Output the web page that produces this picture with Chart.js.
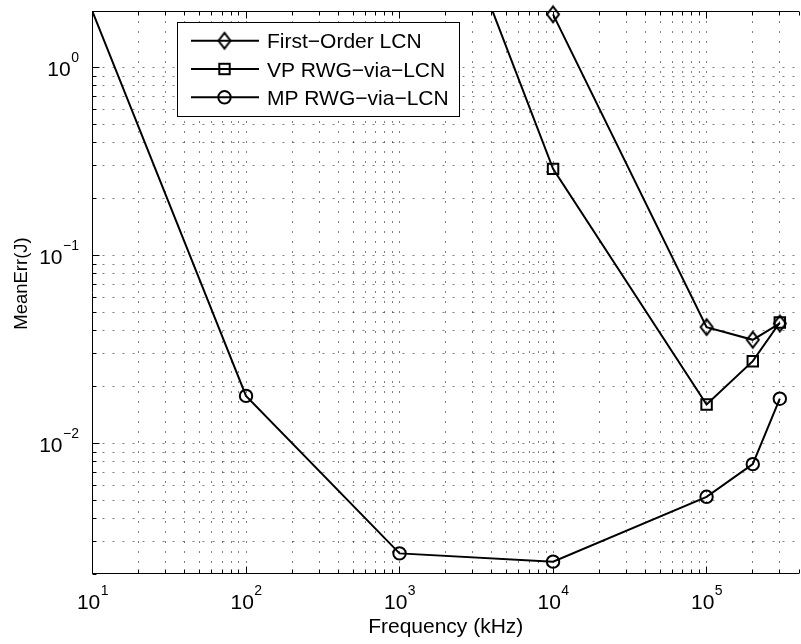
<!DOCTYPE html>
<html>
<head>
<meta charset="utf-8">
<title>MeanErr vs Frequency</title>
<script src="https://cdn.jsdelivr.net/npm/chart.js@4"></script>
<style>
  html, body { margin: 0; padding: 0; background: #fff; overflow: hidden; }
  #wrap { width: 801px; height: 644px; overflow: hidden; }
  canvas { display: block; }
</style>
</head>
<body>
<div id="wrap"><canvas id="errChart" width="809" height="644"></canvas></div>
<script>
const fontFamily = "'Liberation Sans', Arial, Helvetica, sans-serif";

// frequency in kHz, error values
const firstOrderFreq = [1e4, 1e5, 2e5, 3e5];
const firstOrderErr = [1.92, 0.0416, 0.0356, 0.0435];

const vpFreq = [1e3, 1e4, 1e5, 2e5, 3e5];
const vpErr = [39, 0.289, 0.0161, 0.0274, 0.044];

const mpFreq = [1, 1e2, 1e3, 1e4, 1e5, 2e5, 3e5];
const mpErr = [220, 0.0179, 0.0026, 0.00235, 0.0052, 0.00776, 0.0173];

const seriesLabels = ["First−Order LCN", "VP RWG−via−LCN", "MP RWG−via−LCN"];

const xLimits = [10, 4e5];
const yLimits = [0.002, 2];
const xTickExps = [1, 2, 3, 4, 5];
const yTickExps = [-2, -1, 0];

const xTitle = "Frequency (kHz)";
const yTitle = "MeanErr(J)";

function toPoints(xs, ys) {
  return xs.map((x, i) => ({ x: x, y: ys[i] }));
}

// 1..9 x 10^n inside the range, like a matlab log axis
function logTicks(scale) {
  const ticks = [];
  const lo = Math.floor(Math.log10(scale.min));
  const hi = Math.ceil(Math.log10(scale.max));
  for (let e = lo; e <= hi; e++) {
    for (let m = 1; m <= 9; m++) {
      const v = m * Math.pow(10, e);
      if (v >= scale.min * 0.999 && v <= scale.max * 1.001) {
        ticks.push({ value: v, major: m === 1 });
      }
    }
  }
  scale.ticks = ticks;
}

// matlab style diamond, a bit taller than wide
function makeDiamond() {
  const c = document.createElement("canvas");
  c.width = 16;
  c.height = 20;
  const g = c.getContext("2d");
  g.lineWidth = 2;
  g.strokeStyle = "#000";
  g.beginPath();
  g.moveTo(8, 2.2);
  g.lineTo(14, 10);
  g.lineTo(8, 17.8);
  g.lineTo(2, 10);
  g.closePath();
  g.stroke();
  return c;
}
const diamond = makeDiamond();

function drawMarker(ctx, style, x, y) {
  ctx.save();
  ctx.lineWidth = 2;
  ctx.strokeStyle = "#000";
  if (style === "rect") {
    ctx.strokeRect(x - 5.2, y - 5.2, 10.4, 10.4);
  } else if (style === "circle") {
    ctx.beginPath();
    ctx.arc(x, y, 6.2, 0, Math.PI * 2);
    ctx.stroke();
  } else {
    ctx.drawImage(style, x - 8, y - 10);
  }
  ctx.restore();
}

function drawPow(ctx, exp, x, y, align) {
  const base = "10";
  const sup = exp < 0 ? "−" + (-exp) : String(exp);
  ctx.font = "21px " + fontFamily;
  const wb = ctx.measureText(base).width;
  ctx.font = "14px " + fontFamily;
  const ws = ctx.measureText(sup).width;
  const x0 = align === "center" ? x - (wb + ws) / 2 : x - wb - ws;
  ctx.textAlign = "left";
  ctx.textBaseline = "alphabetic";
  ctx.font = "21px " + fontFamily;
  ctx.fillText(base, x0, y);
  ctx.font = "14px " + fontFamily;
  ctx.fillText(sup, x0 + wb + 0.5, y - 14);
}

const matlabAxes = {
  id: "matlabAxes",
  beforeDatasetsDraw(chart) {
    const ctx = chart.ctx;
    const area = chart.chartArea;
    const xs = chart.scales.x;
    const ys = chart.scales.y;
    ctx.save();
    ctx.strokeStyle = "rgba(0,0,0,0.5)";
    ctx.lineWidth = 1;
    ctx.setLineDash([2, 8]);
    xs.ticks.forEach(t => {
      const px = xs.getPixelForValue(t.value);
      if (px < area.left + 1 || px > area.right - 1) return;
      const sx = Math.floor(px) + 0.5;
      ctx.beginPath();
      ctx.moveTo(sx, area.top);
      ctx.lineTo(sx, area.bottom);
      ctx.stroke();
    });
    ys.ticks.forEach(t => {
      const py = ys.getPixelForValue(t.value);
      if (py < area.top + 1 || py > area.bottom - 1) return;
      const sy = Math.floor(py) + 0.5;
      ctx.beginPath();
      ctx.moveTo(area.left, sy);
      ctx.lineTo(area.right, sy);
      ctx.stroke();
    });
    ctx.restore();
  },
  afterDatasetsDraw(chart) {
    const ctx = chart.ctx;
    const area = chart.chartArea;
    const xs = chart.scales.x;
    const ys = chart.scales.y;
    const left = Math.floor(area.left) + 0.5;
    const top = Math.floor(area.top) + 0.5;
    const bottom = Math.floor(area.bottom) - 0.5;

    ctx.save();
    ctx.strokeStyle = "#000";
    ctx.lineWidth = 1;
    ctx.beginPath();
    ctx.moveTo(area.right, top);
    ctx.lineTo(left, top);
    ctx.lineTo(left, bottom);
    ctx.lineTo(area.right, bottom);
    ctx.stroke();

    // inward tick marks
    ctx.beginPath();
    xs.ticks.forEach(t => {
      const sx = Math.floor(xs.getPixelForValue(t.value)) + 0.5;
      const len = t.major ? 7 : 4;
      ctx.moveTo(sx, top);
      ctx.lineTo(sx, top + len);
      ctx.moveTo(sx, bottom);
      ctx.lineTo(sx, bottom - len);
    });
    ys.ticks.forEach(t => {
      const sy = Math.floor(ys.getPixelForValue(t.value)) + 0.5;
      const len = t.major ? 7 : 4;
      ctx.moveTo(left, sy);
      ctx.lineTo(left + len, sy);
    });
    ctx.stroke();

    // tick labels
    ctx.fillStyle = "#000";
    xTickExps.forEach(e => {
      drawPow(ctx, e, xs.getPixelForValue(Math.pow(10, e)), area.bottom + 34, "center");
    });
    yTickExps.forEach(e => {
      drawPow(ctx, e, 78.5, ys.getPixelForValue(Math.pow(10, e)) + 8.3, "right");
    });

    // y title
    ctx.translate(27, 283.5);
    ctx.rotate(-Math.PI / 2);
    ctx.font = "18.5px " + fontFamily;
    ctx.textAlign = "center";
    ctx.textBaseline = "alphabetic";
    ctx.fillText(yTitle, 0, 0);
    ctx.restore();
  },
  afterDraw(chart) {
    const ctx = chart.ctx;
    const styles = [diamond, "rect", "circle"];
    ctx.save();
    ctx.fillStyle = "#fff";
    ctx.fillRect(177, 22, 283, 95);
    ctx.strokeStyle = "#000";
    ctx.lineWidth = 1;
    ctx.strokeRect(177.5, 22.5, 282, 94);
    chart.data.datasets.forEach((ds, i) => {
      const y = 40.7 + i * 28.3;
      ctx.strokeStyle = "#000";
      ctx.lineWidth = 2;
      ctx.beginPath();
      ctx.moveTo(191, y);
      ctx.lineTo(259, y);
      ctx.stroke();
      drawMarker(ctx, styles[i], 224.5, y);
      ctx.fillStyle = "#000";
      ctx.font = "21px " + fontFamily;
      ctx.textAlign = "left";
      ctx.textBaseline = "alphabetic";
      ctx.fillText(ds.label, 267, y + 7.6);
    });
    ctx.restore();
  }
};

const lineStyle = {
  borderColor: "#000",
  borderWidth: 2,
  pointBorderColor: "#000",
  pointBackgroundColor: "rgba(0,0,0,0)",
  pointBorderWidth: 2,
  tension: 0
};

new Chart(document.getElementById("errChart"), {
  type: "line",
  data: {
    datasets: [
      Object.assign({
        label: seriesLabels[0],
        data: toPoints(firstOrderFreq, firstOrderErr),
        pointStyle: diamond,
        pointRadius: 8,
        clip: false
      }, lineStyle),
      Object.assign({
        label: seriesLabels[1],
        data: toPoints(vpFreq, vpErr),
        pointStyle: "rect",
        pointRadius: 7.4
      }, lineStyle),
      Object.assign({
        label: seriesLabels[2],
        data: toPoints(mpFreq, mpErr),
        pointStyle: "circle",
        pointRadius: 6.2
      }, lineStyle)
    ]
  },
  options: {
    responsive: false,
    animation: false,
    layout: { padding: { left: 92.5, top: 11, right: 0, bottom: 0 } },
    plugins: {
      legend: { display: false },
      tooltip: { enabled: false }
    },
    scales: {
      x: {
        type: "logarithmic",
        position: "bottom",
        min: xLimits[0],
        max: xLimits[1],
        bounds: "data",
        afterBuildTicks: logTicks,
        grid: { display: false, drawTicks: false },
        border: { display: false },
        ticks: { display: false },
        title: {
          display: true,
          text: xTitle,
          color: "#000",
          font: { family: fontFamily, size: 21, lineHeight: 1.2 },
          padding: { top: 40, bottom: 4 }
        }
      },
      y: {
        type: "logarithmic",
        min: yLimits[0],
        max: yLimits[1],
        bounds: "data",
        afterBuildTicks: logTicks,
        grid: { display: false, drawTicks: false },
        border: { display: false },
        ticks: { display: false },
        title: { display: false }
      }
    }
  },
  plugins: [matlabAxes]
});
</script>
</body>
</html>
